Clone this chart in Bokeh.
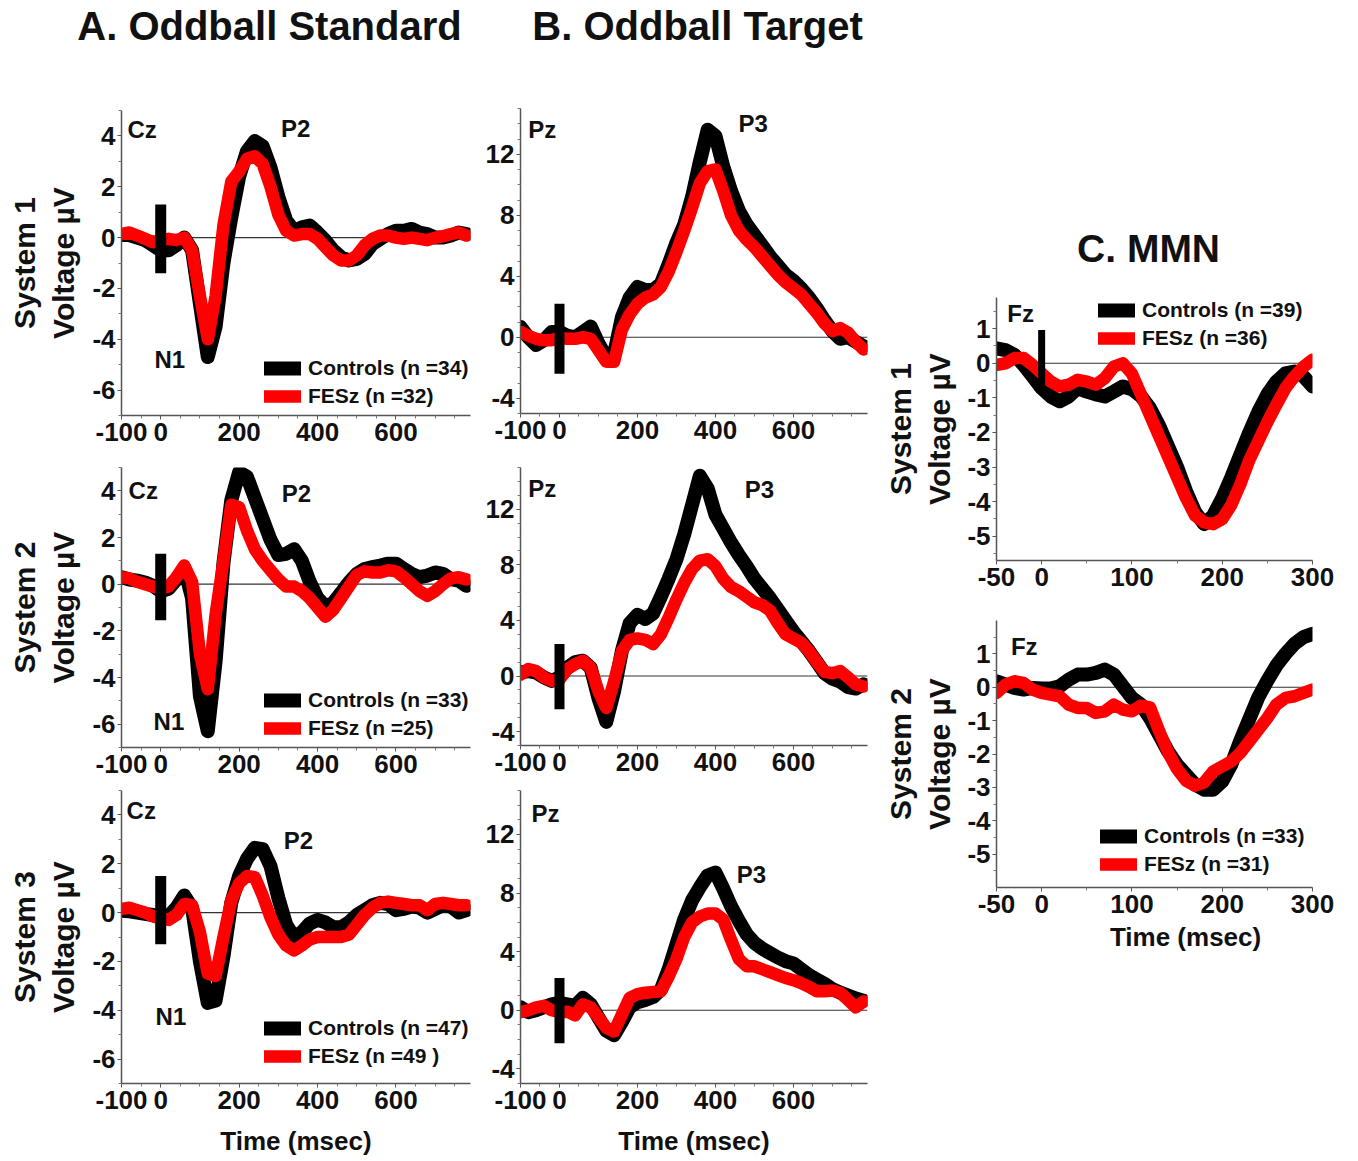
from bokeh.plotting import figure
from bokeh.models import Range1d, FixedTicker, Span, Legend, LegendItem
from bokeh.layouts import row, column
from bokeh.embed import file_html
from bokeh.resources import INLINE
from bokeh.core.properties import value

# ---------------- data ----------------
t_oddball = [-100, -80, -60, -40, -20, 0, 20, 40, 60, 80, 100, 120, 140, 160, 180,
             200, 220, 240, 260, 280, 300, 320, 340, 360, 380, 400, 420, 440, 460,
             480, 500, 520, 540, 560, 580, 600, 620, 640, 660, 680, 700, 720, 740,
             760, 780]
t_mmn = [-50, -40, -30, -20, -10, 0, 10, 20, 30, 40, 50, 60, 70, 80, 90, 100, 110,
         120, 130, 140, 150, 160, 170, 180, 190, 200, 210, 220, 230, 240, 250, 260,
         270, 280, 290, 300]

# A. Oddball Standard (Cz)
a1_controls = [0.1, 0.1, 0.0, -0.1, -0.3, -0.5, -0.5, -0.3, 0.0, -0.5, -2.6, -4.7, -3.5, -1.0, 0.8,
               2.4, 3.4, 3.8, 3.6, 2.75, 1.6, 0.67, 0.27, 0.4, 0.47, 0.2, -0.12, -0.5, -0.77,
               -0.9, -0.84, -0.64, -0.25, -0.05, 0.14, 0.27, 0.27, 0.34, 0.2, 0.14, 0.0, 0.0, 0.08,
               0.2, 0.14]
a1_fesz = [0.14, 0.2, 0.08, -0.05, -0.18, -0.1, -0.05, -0.1, 0.0, -0.5, -2.3, -4.0, -2.3, 0.5, 2.2,
           2.6, 3.1, 3.2, 2.9, 2.0, 0.9, 0.27, 0.08, 0.14, 0.14, -0.05, -0.38, -0.7, -0.9,
           -0.9, -0.7, -0.3, -0.05, 0.08, 0.08, 0.0, -0.05, 0.0, -0.05, -0.1, 0.0, 0.05, 0.14,
           0.2, 0.08]
a2_controls = [0.3, 0.2, 0.15, 0.07, -0.07, -0.3, -0.2, 0.2, 0.7, -0.6, -4.8, -6.3, -3.3, 0.9, 3.6,
               4.8, 4.6, 3.7, 2.8, 1.9, 1.25, 1.3, 1.5, 1.0, 0.1, -0.6, -0.95, -0.8, -0.37,
               0.07, 0.44, 0.65, 0.73, 0.8, 0.88, 0.88, 0.65, 0.44, 0.3, 0.37, 0.5, 0.44, 0.22,
               0.15, -0.07]
a2_fesz = [0.3, 0.25, 0.1, 0.0, -0.1, -0.2, -0.1, 0.3, 0.8, 0.1, -3.0, -4.5, -1.3, 1.0, 3.4,
           3.3, 2.3, 1.5, 1.0, 0.6, 0.2, -0.1, -0.1, -0.3, -0.6, -1.0, -1.4, -1.1, -0.6,
           -0.1, 0.4, 0.55, 0.5, 0.5, 0.6, 0.55, 0.3, 0.0, -0.3, -0.5, -0.3, 0.0, 0.25,
           0.3, 0.2]
a3_controls = [0.07, 0.05, 0.0, -0.05, -0.1, -0.2, -0.15, 0.2, 0.7, 0.2, -2.0, -3.7, -3.6, -1.8, 0.4,
               1.5, 2.2, 2.65, 2.6, 1.9, 0.6, -0.5, -1.0, -0.8, -0.45, -0.3, -0.4, -0.6, -0.6,
               -0.4, -0.1, 0.1, 0.3, 0.4, 0.35, 0.1, 0.15, 0.25, 0.2, 0.0, 0.15, 0.3, 0.25,
               0.0, 0.1]
a3_fesz = [0.15, 0.2, 0.1, 0.0, -0.15, -0.25, -0.3, -0.1, 0.35, 0.3, -0.8, -2.5, -2.6, -1.0, 0.5,
           1.2, 1.5, 1.45, 0.7, -0.2, -0.9, -1.35, -1.55, -1.35, -1.1, -1.0, -1.0, -1.0, -1.0,
           -0.9, -0.5, -0.1, 0.2, 0.4, 0.45, 0.4, 0.35, 0.3, 0.3, 0.1, 0.35, 0.4, 0.35,
           0.3, 0.3]

# B. Oddball Target (Pz)
b1_controls = [0.67, 0.0, -0.5, -0.2, 0.35, 0.35, 0.1, 0.0, 0.35, 0.7, -0.4, -1.3, -1.1, 1.3, 2.6,
               3.3, 3.1, 3.1, 3.5, 4.8, 6.2, 7.4, 9.2, 11.5, 13.6, 13.2, 11.2, 9.6, 8.3,
               7.4, 6.7, 6.0, 5.3, 4.7, 4.1, 3.7, 3.2, 2.6, 1.9, 1.1, 0.4, -0.1, 0.0,
               -0.3, -0.6]
b1_fesz = [0.35, 0.1, -0.1, -0.2, -0.2, 0.0, -0.1, -0.1, 0.0, -0.1, -0.85, -1.6, -1.6, 0.5, 1.5,
           2.2, 2.6, 2.8, 3.3, 4.3, 5.6, 7.0, 8.5, 10.1, 10.9, 11.0, 9.6, 8.0, 7.0,
           6.4, 5.9, 5.3, 4.7, 4.1, 3.6, 3.2, 2.8, 2.2, 1.6, 0.9, 0.4, 0.6, 0.3,
           -0.3, -0.8]
b2_controls = [0.25, 0.35, 0.25, -0.1, -0.35, -0.1, 0.6, 1.0, 1.1, 0.6, -1.6, -3.3, -1.1, 1.8, 3.8,
               4.4, 4.1, 4.5, 5.7, 7.0, 8.4, 10.2, 12.3, 14.4, 13.5, 11.6, 10.6, 9.6, 8.7,
               7.9, 7.0, 6.3, 5.6, 4.8, 4.0, 3.2, 2.5, 1.8, 1.0, 0.2, -0.2, -0.4, -0.8,
               -0.9, -0.6]
b2_fesz = [0.1, 0.5, 0.35, -0.1, -0.35, -0.25, 0.5, 0.85, 1.1, 0.6, -1.1, -2.3, -0.4, 1.8, 2.6,
           2.7, 2.6, 2.3, 3.0, 4.2, 5.5, 6.7, 7.7, 8.3, 8.4, 7.9, 7.0, 6.4, 6.1,
           5.7, 5.3, 5.1, 4.7, 3.8, 3.0, 2.7, 2.4, 1.8, 1.0, 0.3, 0.2, 0.35, -0.1,
           -0.6, -0.75]
b3_controls = [0.2, -0.13, 0.0, 0.2, 0.4, 0.5, 0.4, 0.3, 0.85, 0.4, -0.5, -1.4, -1.7, -0.8, 0.2,
               0.55, 0.7, 0.9, 1.4, 2.8, 4.5, 6.2, 7.5, 8.4, 9.2, 9.4, 8.3, 7.1, 6.1,
               5.2, 4.6, 4.2, 3.9, 3.6, 3.35, 3.2, 2.8, 2.4, 2.1, 1.8, 1.45, 1.2, 1.0,
               0.8, 0.65]
b3_fesz = [-0.13, 0.0, 0.2, 0.3, 0.0, -0.13, -0.1, -0.35, 0.4, 0.2, -0.5, -1.2, -1.45, -0.3, 0.85,
           1.1, 1.2, 1.25, 1.3, 2.3, 3.5, 5.0, 6.0, 6.4, 6.6, 6.6, 6.2, 4.8, 3.5,
           3.0, 3.0, 2.8, 2.6, 2.4, 2.2, 2.05, 1.85, 1.6, 1.3, 1.3, 1.35, 1.2, 0.7,
           0.2, 0.6]

# C. MMN (Fz)
c1_controls = [0.43, 0.38, 0.24, -0.05, -0.38, -0.72, -0.96, -1.1, -0.96, -0.72, -0.82, -0.9,
               -0.96, -0.82, -0.67, -0.75, -0.95, -1.3, -1.8, -2.4, -3.0, -3.7, -4.3, -4.65,
               -4.4, -3.9, -3.3, -2.65, -2.0, -1.4, -0.9, -0.53, -0.29, -0.24, -0.38, -0.67]
c1_fesz = [-0.05, 0.0, 0.15, 0.15, -0.05, -0.29, -0.53, -0.67, -0.62, -0.48, -0.53, -0.62,
           -0.43, -0.1, 0.0, -0.3, -0.9, -1.5, -2.1, -2.7, -3.3, -3.9, -4.4, -4.6,
           -4.65, -4.5, -4.1, -3.5, -2.8, -2.25, -1.7, -1.2, -0.72, -0.38, -0.1, 0.1]
c2_controls = [0.18, 0.08, -0.02, -0.07, -0.02, -0.04, -0.04, 0.03, 0.23, 0.38, 0.38, 0.43,
               0.53, 0.38, 0.03, -0.32, -0.52, -0.92, -1.42, -1.92, -2.32, -2.62, -2.92, -3.07,
               -3.07, -2.82, -2.32, -1.6, -0.95, -0.3, 0.2, 0.65, 1.0, 1.3, 1.5, 1.6]
c2_fesz = [-0.17, 0.08, 0.18, 0.13, -0.07, -0.17, -0.22, -0.27, -0.52, -0.62, -0.62, -0.77,
           -0.72, -0.52, -0.67, -0.72, -0.55, -0.6, -1.3, -1.95, -2.45, -2.8, -2.95, -2.85,
           -2.52, -2.37, -2.22, -1.97, -1.62, -1.27, -0.92, -0.52, -0.32, -0.27, -0.17, -0.07]

# stimulus-onset marker (voltage extent at t = 0)
stim_a1 = [-1.4, 1.3]
stim_a2 = [-1.55, 1.3]
stim_a3 = [-1.3, 1.5]
stim_b1 = [-2.4, 2.2]
stim_b2 = [-2.4, 2.3]
stim_b3 = [-2.25, 2.2]
stim_c1 = [-0.77, 0.96]

# tick labels
x_ticks_oddball = [-100, 0, 200, 400, 600]
x_ticks_mmn = [-50, 0, 100, 200, 300]
y_ticks_standard = [-6, -4, -2, 0, 2, 4]
y_ticks_target = [-4, 0, 4, 8, 12]
y_ticks_mmn = [-5, -4, -3, -2, -1, 0, 1]

legend_a1 = ["Controls (n =34)", "FESz (n =32)"]
legend_a2 = ["Controls (n =33)", "FESz (n =25)"]
legend_a3 = ["Controls (n =47)", "FESz (n =49 )"]
legend_c1 = ["Controls (n =39)", "FESz (n =36)"]
legend_c2 = ["Controls (n =33)", "FESz (n =31)"]

# ---------------- styling ----------------
FONT = "Liberation Sans"
CTRL = "#000000"
FESZ = "#ff0000"
AXIS = "#555555"
TXT = "#111111"


def style_axis(ax, ticks, minor, standoff):
    ax.ticker = FixedTicker(ticks=ticks, minor_ticks=minor)
    ax.major_label_overrides = {v: str(v) for v in ticks if v < 0}
    ax.major_label_text_font = FONT
    ax.major_label_text_font_style = "bold"
    ax.major_label_text_font_size = "26px"
    ax.major_label_text_color = TXT
    ax.major_label_standoff = standoff
    ax.axis_line_color = AXIS
    ax.axis_line_width = 1.5
    ax.major_tick_line_color = AXIS
    ax.minor_tick_line_color = "#777777"
    ax.major_tick_in = 0
    ax.major_tick_out = 4
    ax.minor_tick_in = 0
    ax.minor_tick_out = 3
    ax.axis_label_text_font = FONT
    ax.axis_label_text_font_style = "bold"
    ax.axis_label_text_color = TXT


def text_strip(w, h, xr, texts, size):
    """A frame-only figure (no axes) that carries headline text."""
    p = figure(width=w, height=h, x_range=Range1d(xr[0], xr[1]), y_range=Range1d(0, h),
               output_backend="svg", toolbar_location=None, title=None,
               x_axis_location=None, y_axis_location=None, min_border=0)
    p.outline_line_color = None
    p.xgrid.visible = False
    p.ygrid.visible = False
    p.text(x=[t[0] for t in texts], y=[t[1] for t in texts], text=[t[2] for t in texts],
           text_font=value(FONT), text_font_style="bold", text_font_size=size,
           text_align="center", text_baseline="middle", text_color=TXT)
    return p


def make_panel(size, borders, xr, yr, xt, xminor, yt, yminor, t, ctrl, fesz, stim,
               electrode, components, ylabel=None, ylabel_standoff=9, xlabel=None,
               legend=None, legend_loc=None):
    w, h = size
    bl, br, bt, bb = borders
    p = figure(width=w, height=h, x_range=Range1d(xr[0], xr[1]), y_range=Range1d(yr[0], yr[1]),
               output_backend="svg", toolbar_location=None, title=None,
               min_border_left=bl, min_border_right=br, min_border_top=bt, min_border_bottom=bb)
    p.outline_line_color = None
    p.xgrid.visible = False
    p.ygrid.visible = False
    style_axis(p.xaxis[0], xt, xminor, 3)
    style_axis(p.yaxis[0], yt, yminor, 2)
    if ylabel:
        p.yaxis[0].axis_label = ylabel
        p.yaxis[0].axis_label_text_font_size = "30px"
        p.yaxis[0].axis_label_standoff = ylabel_standoff
    if xlabel:
        p.xaxis[0].axis_label = xlabel
        p.xaxis[0].axis_label_text_font_size = "26px"
        p.xaxis[0].axis_label_standoff = 14

    p.add_layout(Span(location=0, dimension="width", line_color="#333333",
                      line_width=1.2, level="underlay"))
    r_c = p.line(t, ctrl, line_color=CTRL, line_width=14, line_join="round", line_cap="round")
    r_f = p.line(t, fesz, line_color=FESZ, line_width=12.5, line_join="round", line_cap="round")
    if stim:
        p.segment(x0=[0], x1=[0], y0=[stim[0]], y1=[stim[1]], line_color="#000000",
                  line_width=stim[2], line_cap="butt")

    ex, ey, etxt = electrode
    p.text(x=[ex], y=[ey], text=[etxt], text_font=value(FONT), text_font_style="bold",
           text_font_size="24px", text_align="left", text_baseline="middle", text_color=TXT)
    if components:
        p.text(x=[c[0] for c in components], y=[c[1] for c in components],
               text=[c[2] for c in components], text_font=value(FONT), text_font_style="bold",
               text_font_size="24px", text_align="center", text_baseline="middle",
               text_color=TXT)
    if legend:
        lg = Legend(items=[LegendItem(label=legend[0], renderers=[r_c]),
                           LegendItem(label=legend[1], renderers=[r_f])],
                    location=legend_loc, orientation="vertical",
                    background_fill_alpha=0, border_line_alpha=0, padding=0, margin=0,
                    spacing=2, glyph_width=37, glyph_height=26, label_standoff=7,
                    label_text_font=FONT, label_text_font_style="bold",
                    label_text_font_size="21px", label_text_color=TXT)
        p.add_layout(lg)
    return p


X_ODD = (-100, 790)
X_MMN = (-50, 300)
x_minor_odd = [-50, 50, 100, 150, 250, 300, 350, 450, 500, 550, 650, 700, 750]
x_minor_mmn = [50, 150, 250]
y_minor_std = [-7, -5, -3, -1, 1, 3, 5]
y_minor_tgt = [-5, -3, -2, -1, 1, 2, 3, 5, 6, 7, 9, 10, 11, 13, 14, 15]
y_minor_mmn = [-5.5, -4.5, -3.5, -2.5, -1.5, -0.5, 0.5, 1.5]

A_W, B_W, C_W = 482, 393, 477

# headline strip over columns A and B (x in pixels of the strip)
title_ab = text_strip(A_W + B_W, 100, (0, A_W + B_W),
                      [(269, 74.5, "A. Oddball Standard"), (697, 74.5, "B. Oddball Target")],
                      "40px")

# column A
a1 = make_panel((A_W, 359), (121, 12, 10, 44), X_ODD, (-7, 5), x_ticks_oddball, x_minor_odd,
                y_ticks_standard, y_minor_std, t_oddball, a1_controls, a1_fesz,
                stim_a1 + [11], (-85, 4.27, "Cz"), [(344, 4.3, "P2"), (23, -4.8, "N1")],
                ylabel="System 1\nVoltage \u00b5V", legend=legend_a1, legend_loc=(143, 6))
a2 = make_panel((A_W, 327), (121, 12, 8, 39), X_ODD, (-7, 5), x_ticks_oddball, x_minor_odd,
                y_ticks_standard, y_minor_std, t_oddball, a2_controls, a2_fesz,
                stim_a2 + [11], (-82, 4.0, "Cz"), [(346, 3.9, "P2"), (21, -5.9, "N1")],
                ylabel="System 2\nVoltage \u00b5V", legend=legend_a2, legend_loc=(143, 6))
a3 = make_panel((A_W, 372), (121, 12, 4, 72), X_ODD, (-7, 5), x_ticks_oddball, x_minor_odd,
                y_ticks_standard, y_minor_std, t_oddball, a3_controls, a3_fesz,
                stim_a3 + [11], (-87, 4.2, "Cz"), [(351, 2.97, "P2"), (26, -4.27, "N1")],
                ylabel="System 3\nVoltage \u00b5V", xlabel="Time (msec)",
                legend=legend_a3, legend_loc=(143, 14))

# column B
b1 = make_panel((B_W, 359), (36, 8, 8, 46), X_ODD, (-5, 15), x_ticks_oddball, x_minor_odd,
                y_ticks_target, y_minor_tgt, t_oddball, b1_controls, b1_fesz,
                stim_b1 + [10], (-80, 13.6, "Pz"), [(497, 14.0, "P3")])
b2 = make_panel((B_W, 327), (36, 8, 8, 41), X_ODD, (-5, 15), x_ticks_oddball, x_minor_odd,
                y_ticks_target, y_minor_tgt, t_oddball, b2_controls, b2_fesz,
                stim_b2 + [10], (-80, 13.5, "Pz"), [(513, 13.4, "P3")])
b3 = make_panel((B_W, 372), (36, 8, 4, 72), X_ODD, (-5, 15), x_ticks_oddball, x_minor_odd,
                y_ticks_target, y_minor_tgt, t_oddball, b3_controls, b3_fesz,
                stim_b3 + [10], (-72, 13.4, "Pz"), [(492, 9.3, "P3")], xlabel="Time (msec)")

# column C (its strips share the panels' time axis)
title_c = text_strip(C_W, 287, X_MMN, [(118.4, 39.5, "C. MMN")], "39px")
c1 = make_panel((C_W, 325), (121, 40, 10, 52), X_MMN, (-5.7, 1.9), x_ticks_mmn, x_minor_mmn,
                y_ticks_mmn, y_minor_mmn, t_mmn, c1_controls, c1_fesz,
                stim_c1 + [7], (-38, 1.44, "Fz"), None,
                ylabel="System 1\nVoltage \u00b5V", ylabel_standoff=8,
                legend=legend_c1, legend_loc=(102, 209))
c2 = make_panel((C_W, 311), (121, 40, 8, 36), X_MMN, (-6, 2), x_ticks_mmn, x_minor_mmn,
                y_ticks_mmn, y_minor_mmn, t_mmn, c2_controls, c2_fesz,
                None, (-34, 1.23, "Fz"), None,
                ylabel="System 2\nVoltage \u00b5V", ylabel_standoff=8,
                legend=legend_c2, legend_loc=(104, 10))
xlabel_c = text_strip(C_W, 42, X_MMN, [(159.4, 29, "Time (msec)")], "26px")

layout = row(column(title_ab, row(column(a1, a2, a3), column(b1, b2, b3))),
             column(title_c, c1, c2, xlabel_c))

open("out.html", "w").write(file_html(layout, INLINE, title="ERP figure"))
